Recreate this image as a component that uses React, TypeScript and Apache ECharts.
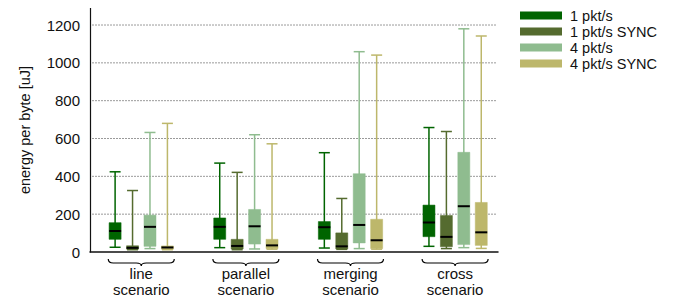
import React, { useEffect, useRef } from "react";
import * as echarts from "echarts";

const categories = ["line\nscenario", "parallel\nscenario", "merging\nscenario", "cross\nscenario"];
const seriesNames = ["1 pkt/s", "1 pkt/s SYNC", "4 pkt/s", "4 pkt/s SYNC"];
const seriesColors = ["#006400", "#556b2f", "#8fbc8f", "#bdb76b"];
const yTicks = [200, 400, 600, 800, 1000, 1200];

// [min, q1, median, q3, max] per category
const pkt1 = [
  [25, 67, 111, 155, 424],
  [23, 67, 133, 180, 470],
  [21, 67, 131, 161, 525],
  [30, 81, 156, 248, 658],
];
const pkt1Sync = [
  [12, 15, 22, 33, 325],
  [12, 16, 32, 67, 421],
  [14, 16, 30, 101, 283],
  [18, 28, 80, 193, 637],
];
const pkt4 = [
  [18, 30, 133, 195, 632],
  [16, 42, 136, 225, 620],
  [18, 48, 143, 414, 1059],
  [23, 39, 242, 527, 1180],
];
const pkt4Sync = [
  [12, 15, 24, 32, 680],
  [15, 18, 35, 67, 572],
  [15, 18, 62, 173, 1041],
  [19, 35, 104, 262, 1142],
];
const allData = [pkt1, pkt1Sync, pkt4, pkt4Sync];
const offsets = [-0.25, -0.0833, 0.0833, 0.25];

const FONT = "'Liberation Sans', Arial, sans-serif";

export default function App() {
  const ref = useRef<HTMLDivElement>(null);
  useEffect(() => {
    if (!ref.current) return;
    const chart = echarts.init(ref.current, undefined, { renderer: "svg" });

    const boxSeries = allData.map((rows, s) => ({
      type: "custom",
      name: seriesNames[s],
      itemStyle: { color: seriesColors[s] },
      clip: false,
      z: 3,
      data: rows.map((r, i) => [i, ...r]),
      encode: { x: 0, y: [1, 2, 3, 4, 5] },
      renderItem: (params: any, api: any) => {
        const x = api.value(0) + offsets[s];
        const color = api.visual("color");
        const pMin = api.coord([x, api.value(1)]);
        const pQ1 = api.coord([x, api.value(2)]);
        const pMed = api.coord([x, api.value(3)]);
        const pQ3 = api.coord([x, api.value(4)]);
        const pMax = api.coord([x, api.value(5)]);
        const cx = pMin[0];
        const bw = 12;
        const cw = 11;
        return {
          type: "group",
          children: [
            {
              type: "line",
              shape: { x1: cx, y1: pMin[1], x2: cx, y2: pMax[1] },
              style: { stroke: color, lineWidth: 1.5 },
            },
            {
              type: "line",
              shape: { x1: cx - cw / 2, y1: pMax[1], x2: cx + cw / 2, y2: pMax[1] },
              style: { stroke: color, lineWidth: 1.5 },
            },
            {
              type: "line",
              shape: { x1: cx - cw / 2, y1: pMin[1], x2: cx + cw / 2, y2: pMin[1] },
              style: { stroke: color, lineWidth: 1.5 },
            },
            {
              type: "rect",
              shape: { x: cx - bw / 2, y: pQ3[1], width: bw, height: Math.max(pQ1[1] - pQ3[1], 1) },
              style: { fill: color, stroke: color, lineWidth: 0.5 },
            },
            {
              type: "line",
              shape: { x1: cx - bw / 2, y1: pMed[1], x2: cx + bw / 2, y2: pMed[1] },
              style: { stroke: "#000", lineWidth: 2 },
            },
          ],
        };
      },
    }));

    const gridSeries = {
      type: "custom",
      name: "grid",
      silent: true,
      z: 1,
      data: yTicks.map((v) => [v]),
      encode: { y: 0 },
      renderItem: (params: any, api: any) => {
        const v = api.value(0);
        const p1 = api.coord([-0.49, v]);
        const p2 = api.coord([3.41, v]);
        return {
          type: "line",
          shape: { x1: p1[0] + 2, y1: p1[1], x2: p2[0] - 1, y2: p2[1] },
          style: { stroke: "#9a9a9a", lineWidth: 1, lineDash: [2, 1] },
        };
      },
    };

    const labelSeries = {
      type: "custom",
      name: "labels",
      silent: true,
      clip: false,
      z: 4,
      data: categories.map((c, i) => [i, 0]),
      encode: { x: 0, y: 1 },
      renderItem: (params: any, api: any) => {
        const idx = api.value(0);
        const p = api.coord([idx, 0]);
        const cx = p[0];
        const y0 = p[1];
        const w = 33;
        const d =
          `M${cx - w},${y0 + 7} Q${cx - w},${y0 + 11} ${cx - w + 5},${y0 + 11} ` +
          `L${cx - 5},${y0 + 11} Q${cx},${y0 + 11} ${cx},${y0 + 14} ` +
          `Q${cx},${y0 + 11} ${cx + 5},${y0 + 11} L${cx + w - 5},${y0 + 11} ` +
          `Q${cx + w},${y0 + 11} ${cx + w},${y0 + 7}`;
        return {
          type: "group",
          children: [
            {
              type: "path",
              shape: { pathData: d },
              style: { fill: "none", stroke: "#000", lineWidth: 1.2 },
            },
            {
              type: "text",
              x: cx,
              y: y0 + 13,
              style: {
                text: categories[idx],
                fill: "#111",
                font: `15px ${FONT}`,
                lineHeight: 16,
                align: "center",
                verticalAlign: "top",
              },
            },
          ],
        };
      },
    };

    chart.setOption({
      animation: false,
      textStyle: { fontFamily: FONT },
      grid: { left: 82, right: 194, top: 0, bottom: 52 },
      legend: {
        data: seriesNames,
        orient: "vertical",
        left: 512,
        top: 0,
        padding: 0,
        itemWidth: 42,
        itemHeight: 8,
        itemGap: 1,
        icon: "rect",
        textStyle: {
          fontSize: 14.5,
          color: "#111",
          fontFamily: FONT,
          lineHeight: 14,
          padding: [0, 0, 0, 3],
        },
      },
      xAxis: {
        type: "value",
        min: -0.49,
        max: 3.41,
        axisLine: { show: true, onZero: false, lineStyle: { color: "#111", width: 1.5 } },
        axisTick: { show: false },
        axisLabel: { show: false },
        splitLine: { show: false },
      },
      yAxis: {
        type: "value",
        min: 0,
        max: 1290,
        interval: 200,
        name: "energy per byte [uJ]",
        nameLocation: "middle",
        nameGap: 58,
        nameTextStyle: { fontSize: 14.5, color: "#111", fontFamily: FONT },
        axisLine: { show: true, onZero: false, lineStyle: { color: "#111", width: 1.2 } },
        axisTick: { show: false },
        axisLabel: {
          fontSize: 15,
          color: "#111",
          margin: 10,
          fontFamily: FONT,
          formatter: (v: number) => (v % 200 === 0 ? String(v) : ""),
        },
        splitLine: { show: false },
      },
      series: [gridSeries, ...boxSeries, labelSeries],
    });
    return () => chart.dispose();
  }, []);
  return <div ref={ref} style={{ width: 684, height: 296 }} />;
}
